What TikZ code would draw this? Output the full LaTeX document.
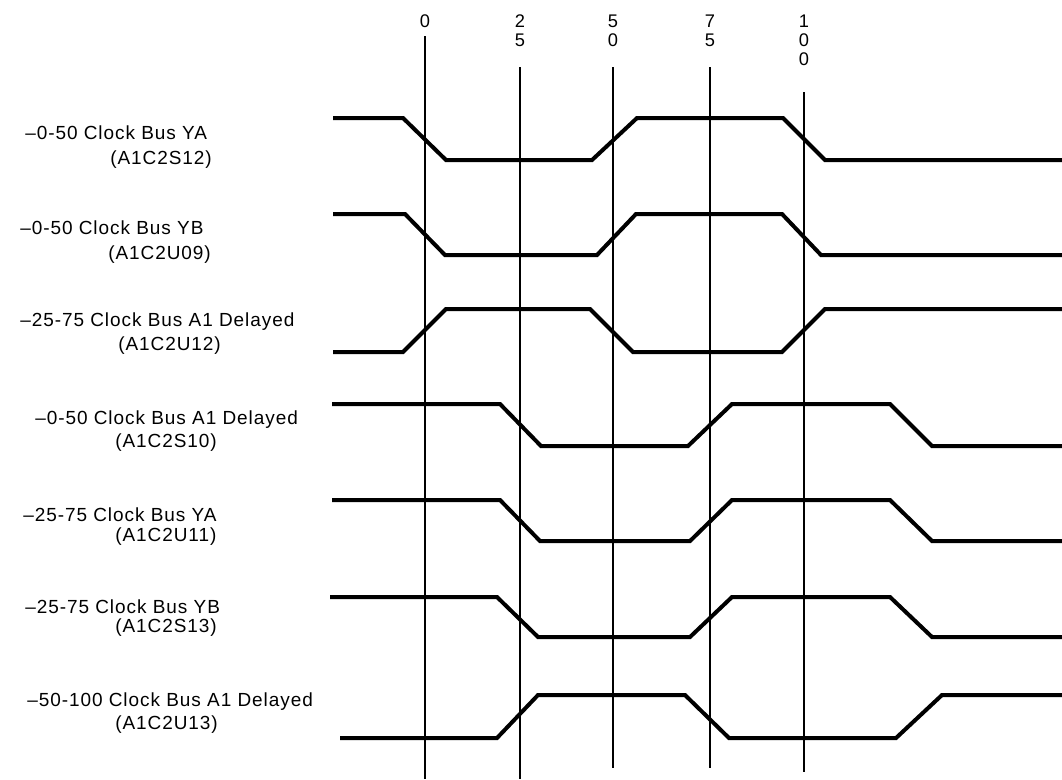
\documentclass[tikz,border=0pt]{standalone}
\usepackage{fontspec}
\setmainfont{Liberation Sans}
\newfontfamily\sigfont[LetterSpace=5]{Liberation Sans}
\tikzset{
  wave/.style={line width=0.1cm},
  timeline/.style={line width=0.05cm},
  siglabel/.style={anchor=west,inner sep=0pt,font=\sigfont\fontsize{13.5}{15}\selectfont},
  ticklabel/.style={inner sep=0pt,align=center,font=\fontsize{13}{13.5}\selectfont}
}
\begin{document}
\begin{tikzpicture}[x=0.025cm,y=-0.025cm]
    \useasboundingbox (0,0) rectangle (1062,779);
    % time marks
    \foreach \x/\top/\bot/\lab/\ly in {425/36/779/0/21, 520/67/779/{2\\5}/30.5, 613/67/768/{5\\0}/30.5,
                                       710/67/768/{7\\5}/30.5, 804/92/772/{1\\0\\0}/40.5}{
        \node[ticklabel] (t\x) at (\x,\ly) {\lab};
        \draw[timeline] (\x,\top) -- (\x,\bot);
    }
    % signal names
    \node[siglabel] (ya) at (25,133) {–0-50 Clock Bus YA};
    \node[siglabel] (yapin) at (110,160) {(A1C2S12)};
    \node[siglabel] (yb) at (20,228) {–0-50 Clock Bus YB};
    \node[siglabel] (ybpin) at (108,255) {(A1C2U09)};
    \node[siglabel] (dlya) at (20,322) {–25-75 Clock Bus A1 Delayed};
    \node[siglabel] (dlyapin) at (118,346) {(A1C2U12)};
    \node[siglabel] (dlyb) at (35,420) {–0-50 Clock Bus A1 Delayed};
    \node[siglabel] (dlybpin) at (115,443) {(A1C2S10)};
    \node[siglabel] (lya) at (23,515) {–25-75 Clock Bus YA};
    \node[siglabel] (lyapin) at (115,537) {(A1C2U11)};
    \node[siglabel] (lyb) at (25,607) {–25-75 Clock Bus YB};
    \node[siglabel] (lybpin) at (115,628) {(A1C2S13)};
    \node[siglabel] (dlyc) at (27,702) {–50-100 Clock Bus A1 Delayed};
    \node[siglabel] (dlycpin) at (115,725) {(A1C2U13)};
    % waveforms
    \draw[wave] (333,118) -- (403,118) -- (446,160) -- (592,160) -- (637,118) -- (783,118) -- (825,160) -- (1062,160);
    \draw[wave] (333,214) -- (405,214) -- (445,255) -- (597,255) -- (636,214) -- (782,214) -- (821,255) -- (1062,255);
    \draw[wave] (333,352) -- (403,352) -- (446,309) -- (590,309) -- (633,352) -- (782,352) -- (825,309) -- (1062,309);
    \draw[wave] (332,404) -- (500,404) -- (541,446) -- (688,446) -- (732,404) -- (890,404) -- (932,446) -- (1062,446);
    \draw[wave] (332,500) -- (500,500) -- (540,541) -- (690,541) -- (732,500) -- (890,500) -- (932,541) -- (1062,541);
    \draw[wave] (330,597) -- (497,597) -- (538,637) -- (690,637) -- (732,597) -- (890,597) -- (932,637) -- (1062,637);
    \draw[wave] (340,738) -- (497,738) -- (538,695) -- (685,695) -- (729,738) -- (896,738) -- (942,695) -- (1062,695);
\end{tikzpicture}
\end{document}
